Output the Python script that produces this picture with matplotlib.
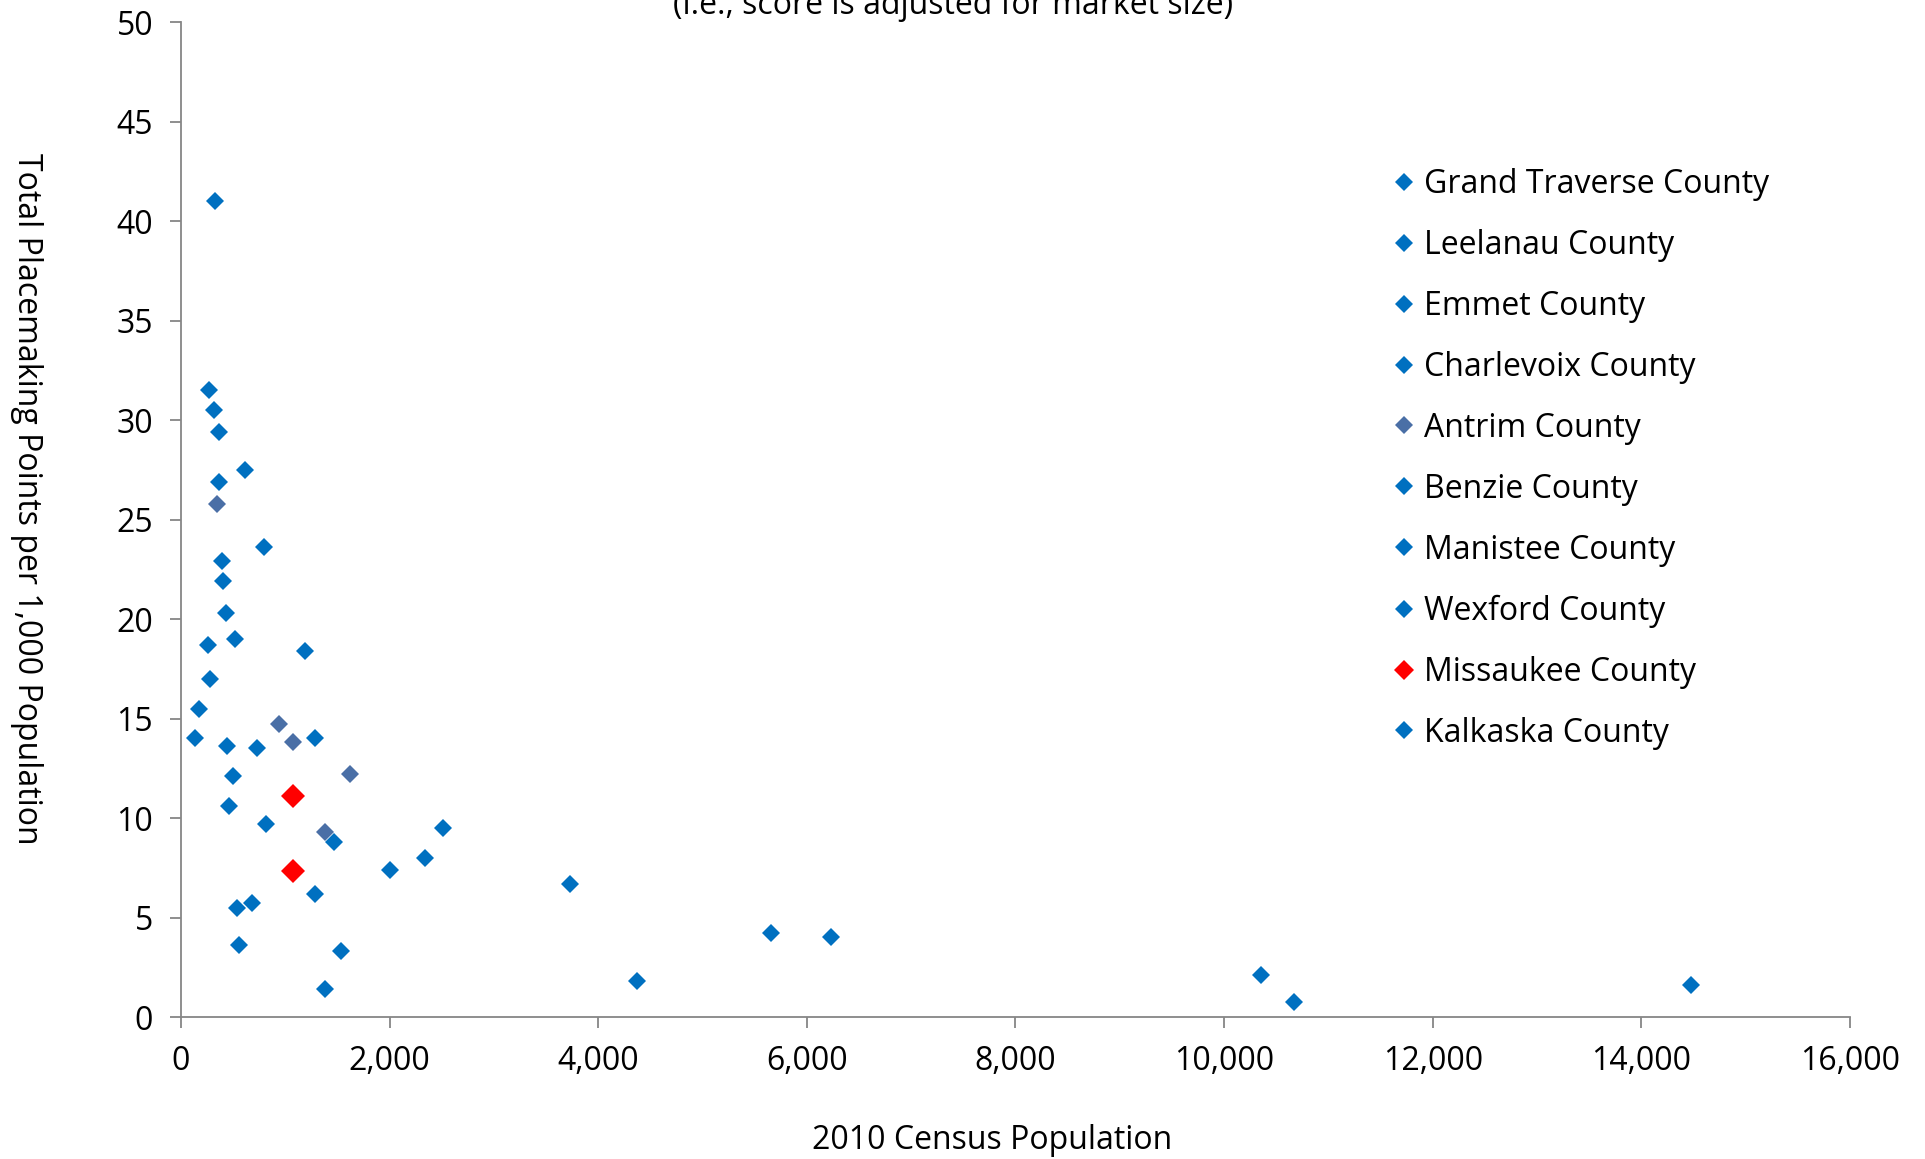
"""
Placemaking points per 1,000 population vs. 2010 census population
(scatter, one series per county)
"""

import matplotlib.pyplot as plt
from matplotlib.ticker import FuncFormatter, MultipleLocator

plt.rcParams["font.family"] = ["Open Sans", "DejaVu Sans"]

# ── data: (population, points per 1,000) per county ─────────────────────────
counties = ["Grand Traverse County", "Leelanau County", "Emmet County",
            "Charlevoix County", "Antrim County", "Benzie County",
            "Manistee County", "Wexford County", "Missaukee County",
            "Kalkaska County"]

gt_pop  = [14480, 440, 1470]
gt_pts  = [1.6, 13.6, 8.8]
lee_pop = [612, 518, 365]
lee_pts = [27.5, 19.0, 29.4]
emm_pop = [5660, 1190, 800, 812, 730]
emm_pts = [4.2, 18.4, 23.6, 9.7, 13.5]
chx_pop = [2510, 3730, 2340, 283]
chx_pts = [9.5, 6.7, 8.0, 17.0]
ant_pop = [1625, 1071, 1378, 942, 341]
ant_pts = [12.2, 13.8, 9.3, 14.7, 25.8]
ben_pop = [1283, 330, 495, 389, 318, 436]
ben_pts = [6.2, 41.0, 12.1, 22.9, 30.5, 20.3]
man_pop = [6230, 400, 271, 459, 365, 177]
man_pts = [4.0, 21.9, 31.5, 10.6, 26.9, 15.5]
wex_pop = [10350, 1283, 10670, 683, 130, 259, 4370, 1531, 1378, 542, 553]
wex_pts = [2.1, 14.0, 0.75, 5.75, 14.0, 18.7, 1.8, 3.3, 1.4, 5.5, 3.6]
mis_pop = [1071, 1071]
mis_pts = [11.1, 7.35]
kal_pop = [2000]
kal_pts = [7.4]

series = [(gt_pop, gt_pts), (lee_pop, lee_pts), (emm_pop, emm_pts),
          (chx_pop, chx_pts), (ant_pop, ant_pts), (ben_pop, ben_pts),
          (man_pop, man_pts), (wex_pop, wex_pts), (mis_pop, mis_pts),
          (kal_pop, kal_pts)]

BLUE  = "#0070C0"
SLATE = "#4A6FA6"
RED   = "#FF0000"
colors = [BLUE, BLUE, BLUE, BLUE, SLATE, BLUE, BLUE, BLUE, RED, BLUE]
sizes  = [9, 9, 9, 9, 9, 9, 9, 9, 12.5, 9]

FS = 23

fig = plt.figure(figsize=(19.25, 11.59), dpi=100)
ax = fig.add_axes([0.094, 0.1225, 0.867, 0.8585])

for name, (xs, ys), c, ms in zip(counties, series, colors, sizes):
    ax.plot(xs, ys, linestyle="none", marker="D", markersize=ms,
            color=c, markeredgewidth=0, label=name)

ax.set_xlim(0, 16000)
ax.set_ylim(0, 50)
ax.xaxis.set_major_locator(MultipleLocator(2000))
ax.yaxis.set_major_locator(MultipleLocator(5))
ax.xaxis.set_major_formatter(FuncFormatter(lambda v, p: f"{int(v):,}"))

for s in ["top", "right"]:
    ax.spines[s].set_visible(False)
for s in ["left", "bottom"]:
    ax.spines[s].set_color("#868686")
    ax.spines[s].set_linewidth(1.3)
ax.tick_params(axis="both", direction="out", length=8, width=1.3,
               color="#868686", labelsize=FS, pad=12, labelcolor="black")

ax.set_xlabel("2010 Census Population", fontsize=FS, va="center")
ax.xaxis.set_label_coords(0.486, -0.1236)
ax.set_ylabel("Total Placemaking Points per 1,000 Population", fontsize=FS,
              rotation=-90, va="center", ha="center")
ax.yaxis.set_label_coords(-0.0923, 0.521)

leg = ax.legend(loc="upper left", bbox_to_anchor=(0.715, 0.8662),
                bbox_transform=fig.transFigure, frameon=False,
                fontsize=FS, labelspacing=0.875, handletextpad=0.2,
                handlelength=0.9, borderaxespad=0)
for h, c in zip(leg.legend_handles, colors):
    h.set_markersize(10 if c == RED else 9)

# title sits mostly above the canvas in the original
fig.text(0.495, 1 - 14 / 1159, "(i.e., score is adjusted for market size)",
         ha="center", va="baseline", fontsize=FS)

plt.savefig("out.png", dpi=100)
plt.close()
